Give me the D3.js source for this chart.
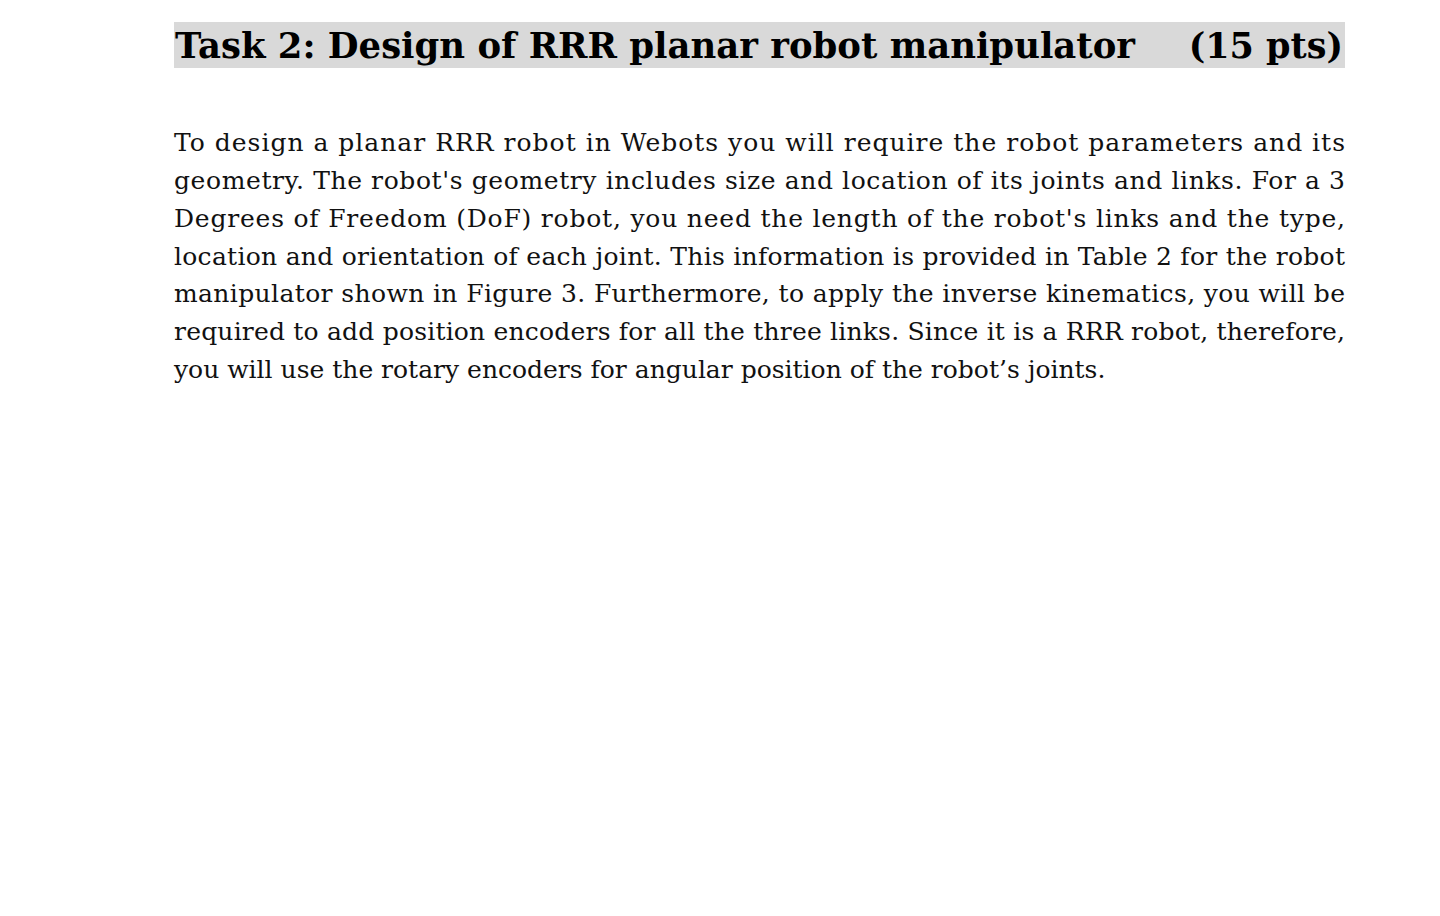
<!DOCTYPE html>
<html><head><meta charset="utf-8">
<script src="https://cdn.jsdelivr.net/npm/d3@7"></script>
<style>body{margin:0;background:#fff}</style>
</head><body>
<svg id="page" width="1440" height="916"></svg>
<script>
var titleLeft = "Task 2: Design of RRR planar robot manipulator"
var titleRight = "(15 pts)"
var lines = [
  "To design a planar RRR robot in Webots you will require the robot parameters and its",
  "geometry. The robot's geometry includes size and location of its joints and links. For a 3",
  "Degrees of Freedom (DoF) robot, you need the length of the robot's links and the type,",
  "location and orientation of each joint. This information is provided in Table 2 for the robot",
  "manipulator shown in Figure 3. Furthermore, to apply the inverse kinematics, you will be",
  "required to add position encoders for all the three links. Since it is a RRR robot, therefore,",
  "you will use the rotary encoders for angular position of the robot\u2019s joints."
]

var svg = d3.select("#page")
var left = 174, right = 1345
var font = "Georgia, 'DejaVu Serif', serif"

// title bar
svg.append("rect").attr("x", left).attr("y", 22).attr("width", right - left).attr("height", 46).attr("fill", "#d9d9d9")
svg.append("text").attr("x", left + 1).attr("y", 58).attr("font-family", font).attr("font-weight", "bold")
   .attr("font-size", 35).attr("fill", "#000")
   .attr("textLength", 960).attr("lengthAdjust", "spacingAndGlyphs").text(titleLeft)
svg.append("text").attr("x", right - 2).attr("y", 58).attr("text-anchor", "end").attr("font-family", font)
   .attr("font-weight", "bold").attr("font-size", 35).attr("fill", "#000").text(titleRight)

// paragraph, justified except last line
var y = d3.scaleLinear().domain([0, lines.length - 1]).range([151, 378])
svg.selectAll("text.line").data(lines).enter().append("text")
   .attr("class", "line")
   .attr("x", left)
   .attr("y", (d, i) => y(i))
   .attr("font-family", font)
   .attr("font-size", 25)
   .attr("fill", "#111")
   .each(function(d, i){
       if (i < lines.length - 1) {
           d3.select(this).attr("textLength", right - left).attr("lengthAdjust", "spacing")
       }
   })
   .text(d => d)
</script>
</body></html>
